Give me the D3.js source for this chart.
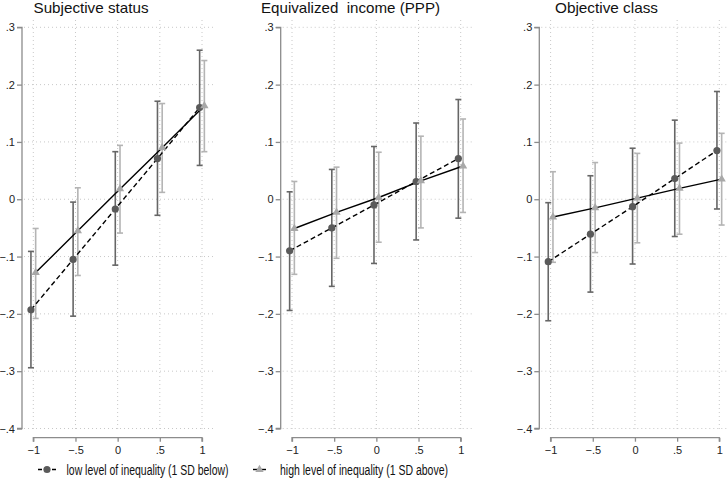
<!DOCTYPE html>
<html>
<head>
<meta charset="utf-8">
<script src="https://cdn.jsdelivr.net/npm/d3@7"></script>
<style>
  body { margin: 0; background: #fff; }
  svg { display: block; font-family: "Liberation Sans", Arial, sans-serif; }
  .title { white-space: pre; }
</style>
</head>
<body>
<svg id="chart"></svg>
<script>
// Chart data
const panelTitles = ["Subjective status", "Equivalized  income (PPP)", "Objective class"];
const xValues = [-1, -0.5, 0, 0.5, 1];
const xTickLabels = ["\u22121", "\u2212.5", "0", ".5", "1"];
const yTicks = [0.3, 0.2, 0.1, 0, -0.1, -0.2, -0.3, -0.4];
const yTickLabels = [".3", ".2", ".1", "0", "\u2212.1", "\u2212.2", "\u2212.3", "\u2212.4"];
const seriesNames = ["low level of inequality (1 SD below)", "high level of inequality (1 SD above)"];

// low level of inequality: estimate, lower CI, upper CI (one array per panel)
const lowEst = [
  [-0.193, -0.105, -0.017, 0.071, 0.160],
  [-0.090, -0.050, -0.010, 0.031, 0.071],
  [-0.109, -0.061, -0.013, 0.036, 0.085]
];
const lowLo = [
  [-0.294, -0.204, -0.115, -0.028, 0.059],
  [-0.194, -0.152, -0.112, -0.071, -0.033],
  [-0.212, -0.162, -0.113, -0.065, -0.017]
];
const lowHi = [
  [-0.091, -0.005, 0.083, 0.171, 0.260],
  [0.013, 0.052, 0.092, 0.133, 0.174],
  [-0.006, 0.041, 0.089, 0.138, 0.188]
];
// high level of inequality
const highEst = [
  [-0.128, -0.055, 0.018, 0.090, 0.163],
  [-0.051, -0.023, 0.003, 0.032, 0.058],
  [-0.031, -0.015, 0.002, 0.019, 0.035]
];
const highLo = [
  [-0.208, -0.133, -0.059, 0.012, 0.083],
  [-0.131, -0.103, -0.075, -0.050, -0.023],
  [-0.110, -0.093, -0.076, -0.061, -0.045]
];
const highHi = [
  [-0.051, 0.020, 0.094, 0.167, 0.242],
  [0.031, 0.056, 0.082, 0.110, 0.140],
  [0.048, 0.064, 0.080, 0.098, 0.115]
];

const width = 728, height = 493;
const svg = d3.select("#chart").attr("width", width).attr("height", height);

// layout
const axisXs = [22, 280.7, 539.3];
const plotW = 191;
const dodge = 0.028;
const lowColor = "#5a5a5a", lowCIColor = "#666", highColor = "#a8a8a8", highCIColor = "#b4b4b4";
const axisColor = "#8c8c8c", gridColor = "#c8c8c8";

const y = d3.scaleLinear().domain([-0.4, 0.3]).range([428.5, 27.3]);
const titleX = [91, 350.5, 606.5];
const titleLen = [115, 179, 103];

const triangle = d3.symbol().type(d3.symbolTriangle).size(30);

panelTitles.forEach((title, p) => {
  const ax = axisXs[p];
  const x = d3.scaleLinear().domain([-1, 1]).range([ax + 11.3, ax + 180]);
  const g = svg.append("g").attr("class", "panel");

  // grid
  g.append("g").selectAll("line.hgrid").data(yTicks).enter().append("line")
    .attr("x1", ax + 2).attr("x2", ax + plotW)
    .attr("y1", d => y(d)).attr("y2", d => y(d))
    .attr("stroke", gridColor).attr("stroke-width", 1).attr("stroke-dasharray", "1,3");
  g.append("g").selectAll("line.vgrid").data(xValues).enter().append("line")
    .attr("x1", d => x(d)).attr("x2", d => x(d))
    .attr("y1", 20).attr("y2", 430)
    .attr("stroke", gridColor).attr("stroke-width", 1).attr("stroke-dasharray", "1,3");

  // y axis
  const yAxis = d3.axisLeft(y).tickValues(yTicks).tickSize(5).tickPadding(2)
    .tickFormat((d, i) => yTickLabels[i]);
  const yg = g.append("g").attr("transform", `translate(${ax},0)`).call(yAxis);
  yg.select(".domain").attr("stroke", axisColor).attr("stroke-width", 1.3)
    .attr("d", `M-5,${y(0.3)}H0V${y(-0.4)}H-5`);
  yg.selectAll(".tick line").attr("stroke", axisColor).attr("stroke-width", 1.3);
  yg.selectAll(".tick text").attr("font-size", 11).attr("fill", "#222")
    .attr("font-family", "Liberation Sans, Arial, sans-serif");

  // x axis
  const xAxis = d3.axisBottom(x).tickValues(xValues).tickSize(4).tickPadding(5)
    .tickFormat((d, i) => xTickLabels[i]);
  const xg = g.append("g").attr("transform", "translate(0,437.7)").call(xAxis);
  xg.select(".domain").attr("stroke", axisColor).attr("stroke-width", 1.3)
    .attr("d", `M${x(-1)},4V0H${x(1)}V4`);
  xg.selectAll(".tick line").attr("stroke", axisColor).attr("stroke-width", 1.3);
  xg.selectAll(".tick text").attr("font-size", 11).attr("fill", "#222")
    .attr("font-family", "Liberation Sans, Arial, sans-serif");

  // title
  g.append("text").attr("class", "title")
    .attr("x", titleX[p]).attr("y", 13)
    .attr("text-anchor", "middle")
    .attr("font-size", 15).attr("fill", "#111")
    .attr("textLength", titleLen[p]).attr("lengthAdjust", "spacingAndGlyphs")
    .text(title);

  const series = [
    { est: lowEst[p], lo: lowLo[p], hi: lowHi[p], off: -dodge, color: lowColor, ci: lowCIColor, dash: "5,3", shape: "circle" },
    { est: highEst[p], lo: highLo[p], hi: highHi[p], off: dodge, color: highColor, ci: highCIColor, dash: null, shape: "triangle" }
  ];

  // confidence intervals
  series.forEach(s => {
    const rows = xValues.map((v, i) => ({ x: v + s.off, lo: s.lo[i], hi: s.hi[i] }));
    const cg = g.append("g");
    cg.selectAll("line.ci").data(rows).enter().append("line")
      .attr("x1", d => x(d.x)).attr("x2", d => x(d.x))
      .attr("y1", d => y(d.lo)).attr("y2", d => y(d.hi))
      .attr("stroke", s.ci).attr("stroke-width", 1.6);
    ["lo", "hi"].forEach(k => {
      cg.selectAll("line.cap" + k).data(rows).enter().append("line")
        .attr("x1", d => x(d.x) - 3).attr("x2", d => x(d.x) + 3)
        .attr("y1", d => y(d[k])).attr("y2", d => y(d[k]))
        .attr("stroke", s.ci).attr("stroke-width", 1.6);
    });
  });

  // lines and markers
  series.forEach(s => {
    const pts = xValues.map((v, i) => [v + s.off, s.est[i]]);
    const line = d3.line().x(d => x(d[0])).y(d => y(d[1]));
    g.append("path").attr("d", line(pts))
      .attr("fill", "none").attr("stroke", "#000").attr("stroke-width", 1.4)
      .attr("stroke-dasharray", s.dash);
  });
  series.forEach(s => {
    const pts = xValues.map((v, i) => [v + s.off, s.est[i]]);
    if (s.shape === "circle") {
      g.selectAll("circle.pt").data(pts).enter().append("circle")
        .attr("cx", d => x(d[0])).attr("cy", d => y(d[1])).attr("r", 3.6)
        .attr("fill", s.color);
    } else {
      g.selectAll("path.pt").data(pts).enter().append("path")
        .attr("d", triangle)
        .attr("transform", d => `translate(${x(d[0])},${y(d[1])})`)
        .attr("fill", s.color);
    }
  });
});

// legend
const legend = svg.append("g").attr("class", "legend");
legend.append("line").attr("x1", 38).attr("x2", 56).attr("y1", 469.5).attr("y2", 469.5)
  .attr("stroke", "#000").attr("stroke-width", 1.4).attr("stroke-dasharray", "4,3");
legend.append("circle").attr("cx", 47).attr("cy", 469.5).attr("r", 3.6).attr("fill", lowColor);
legend.append("text").attr("x", 66.5).attr("y", 474.5)
  .attr("font-size", 14).attr("fill", "#111")
  .attr("textLength", 162).attr("lengthAdjust", "spacingAndGlyphs")
  .text(seriesNames[0]);
legend.append("line").attr("x1", 253).attr("x2", 266).attr("y1", 469.5).attr("y2", 469.5)
  .attr("stroke", "#000").attr("stroke-width", 1.4);
legend.append("path").attr("d", triangle)
  .attr("transform", "translate(259.5,469.5)").attr("fill", highColor);
legend.append("text").attr("x", 280).attr("y", 474.5)
  .attr("font-size", 14).attr("fill", "#111")
  .attr("textLength", 168).attr("lengthAdjust", "spacingAndGlyphs")
  .text(seriesNames[1]);
</script>
</body>
</html>
